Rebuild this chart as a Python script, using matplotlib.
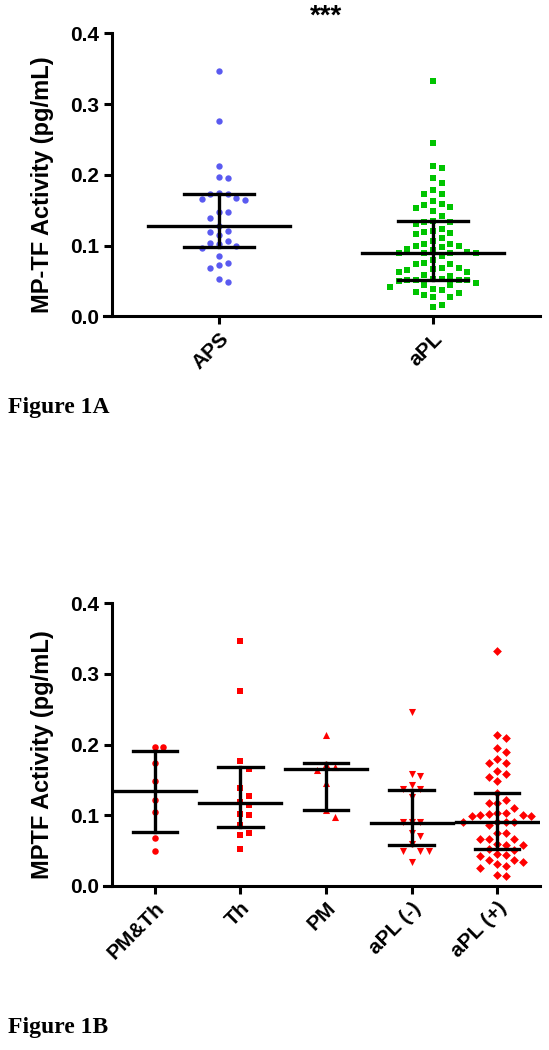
import numpy as np
import matplotlib
matplotlib.use('Agg')
import matplotlib.pyplot as plt

plt.rcParams['font.family'] = ['Liberation Sans', 'DejaVu Sans']
plt.rcParams['font.weight'] = 'bold'

# ---- Figure 1A data (pg/mL) ----
aps_vals = [0.347, 0.276, 0.213, 0.197, 0.195, 0.175, 0.173, 0.173, 0.168, 0.166,
            0.164, 0.147, 0.147, 0.139, 0.128, 0.121, 0.119, 0.115, 0.107, 0.104,
            0.102, 0.0996, 0.097, 0.086, 0.076, 0.072, 0.068, 0.053, 0.049]
apl_vals = [0.333, 0.245, 0.213, 0.210, 0.195, 0.189, 0.178, 0.173, 0.173, 0.163,
            0.159, 0.157, 0.155, 0.153, 0.149, 0.142, 0.135, 0.134, 0.134, 0.131,
            0.124, 0.121, 0.119, 0.118, 0.116, 0.111, 0.107, 0.103, 0.102, 0.100,
            0.099, 0.098, 0.095, 0.094, 0.091, 0.089, 0.089, 0.089, 0.089, 0.085,
            0.080, 0.075, 0.074, 0.074, 0.068, 0.068, 0.067, 0.066, 0.063, 0.063,
            0.058, 0.057, 0.053, 0.053, 0.052, 0.052, 0.051, 0.051, 0.050, 0.047,
            0.045, 0.044, 0.041, 0.039, 0.037, 0.034, 0.033, 0.030, 0.028, 0.027,
            0.016, 0.014]
groups_a = ['APS', 'aPL']
colors_a = ['#5a5af0', '#00c400']
markers_a = ['o', 's']
sizes_a = [21, 18]
median_a = [0.128, 0.089]
q1_a = [0.0986, 0.052]
q3_a = [0.173, 0.135]

# ---- Figure 1B data (pg/mL) ----
pmth_vals = [0.197, 0.196, 0.174, 0.148, 0.122, 0.105, 0.068, 0.050]
th_vals = [0.346, 0.276, 0.177, 0.166, 0.139, 0.128, 0.119, 0.115, 0.102, 0.101,
           0.087, 0.075, 0.072, 0.053]
pm_vals = [0.213, 0.173, 0.168, 0.164, 0.146, 0.107, 0.097]
apl_neg_vals = [0.246, 0.158, 0.155, 0.143, 0.137, 0.137, 0.126, 0.090, 0.090, 0.090,
                0.075, 0.071, 0.059, 0.050, 0.050, 0.049, 0.034]
apl_pos_vals = [0.333, 0.214, 0.210, 0.195, 0.189, 0.179, 0.174, 0.174, 0.163, 0.159,
                0.154, 0.149, 0.132, 0.121, 0.118, 0.117, 0.111, 0.103, 0.103, 0.102,
                0.100, 0.100, 0.0995, 0.099, 0.090, 0.090, 0.090, 0.090, 0.086, 0.075,
                0.075, 0.067, 0.067, 0.066, 0.060, 0.058, 0.058, 0.052, 0.051, 0.045,
                0.044, 0.042, 0.037, 0.037, 0.034, 0.031, 0.028, 0.026, 0.016, 0.014]
groups_b = ['PM&Th', 'Th', 'PM', 'aPL (-)', 'aPL (+)']
markers_b = ['o', 's', '^', 'v', 'D']
sizes_b = [22, 20, 26, 26, 20]
median_b = [0.135, 0.117, 0.166, 0.089, 0.090]
q1_b = [0.077, 0.084, 0.108, 0.058, 0.052]
q3_b = [0.191, 0.169, 0.174, 0.136, 0.131]

RED = '#ff0000'
AX_L, AX_W = 104 / 549, 436 / 549


def swarm(vals, step, min_dy):
    # simple column swarm: centre first, then right/left
    order = np.argsort(vals)[::-1]
    placed = {}
    offs = np.zeros(len(vals))
    for i in order:
        v = vals[i]
        k = 0
        while True:
            col = (k + 1) // 2 * (1 if k % 2 else -1)
            if all(abs(v - u) >= min_dy for u in placed.get(col, [])):
                placed.setdefault(col, []).append(v)
                offs[i] = col * step
                break
            k += 1
    return offs


def style_axes(ax, ncat, ylabel):
    ax.set_ylim(0, 0.4)
    # x axis runs a few pixels past the y axis, GraphPad style
    ax.set_xlim(0.5 - 8 * ncat / 428, ncat + 0.5)
    ax.spines['left'].set_position(('data', 0.5))
    ax.spines['left'].set_bounds(0, 0.4)
    for s in ['top', 'right']:
        ax.spines[s].set_visible(False)
    for s in ['left', 'bottom']:
        ax.spines[s].set_linewidth(2.2)
    ax.set_yticks([0.0, 0.1, 0.2, 0.3, 0.4])
    ax.set_yticklabels(['0.0', '0.1', '0.2', '0.3', '0.4'])
    ax.tick_params(axis='both', width=2.2, length=6, labelsize=15, pad=3)
    ax.set_ylabel(ylabel, fontsize=17, fontweight='bold', va='center')
    ax.yaxis.set_label_coords(-0.14, 0.465)


def summary(ax, x, med, lo, hi, wmed, wq):
    ax.plot([x - wmed, x + wmed], [med, med], color='black', lw=2.4, zorder=4)
    ax.plot([x - wq, x + wq], [lo, lo], color='black', lw=2.4, zorder=4)
    ax.plot([x - wq, x + wq], [hi, hi], color='black', lw=2.4, zorder=4)
    ax.plot([x, x], [lo, hi], color='black', lw=2.4, zorder=4)


fig = plt.figure(figsize=(5.49, 10.5), dpi=100)

# ---------- Figure 1A ----------
ax1 = fig.add_axes([AX_L, 0.6986, AX_W, 0.2697])
data_a = [aps_vals, apl_vals]
for i, vals in enumerate(data_a):
    vals = np.array(vals)
    x = i + 1 + swarm(vals, 0.04, 0.012)
    ax1.scatter(x, vals, s=sizes_a[i], marker=markers_a[i],
                color=colors_a[i], linewidths=0, zorder=3)
    summary(ax1, i + 1, median_a[i], q1_a[i], q3_a[i], 0.33, 0.165)
style_axes(ax1, 2, 'MP-TF Activity (pg/mL)')
ax1.set_xticks([1, 2])
ax1.set_xticklabels(groups_a, rotation=45, ha='right', va='top',
                    rotation_mode='anchor', fontsize=15, fontweight='bold')
fig.text(0.5 * (219 + 433) / 549, 1 - 17 / 1050, '***', ha='center', va='center',
         fontsize=20, fontweight='bold')

# ---------- Figure 1B ----------
ax2 = fig.add_axes([AX_L, 0.1562, AX_W, 0.2692])
data_b = [pmth_vals, th_vals, pm_vals, apl_neg_vals, apl_pos_vals]
for i, vals in enumerate(data_b):
    vals = np.array(vals)
    x = i + 1 + swarm(vals, 0.1, 0.012)
    ax2.scatter(x, vals, s=sizes_b[i], marker=markers_b[i],
                color=RED, linewidths=0, zorder=3)
    summary(ax2, i + 1, median_b[i], q1_b[i], q3_b[i], 0.48, 0.26)
style_axes(ax2, 5, 'MPTF Activity (pg/mL)')
ax2.set_xticks(range(1, 6))
ax2.set_xticklabels(groups_b, rotation=45, ha='right', va='top',
                    rotation_mode='anchor', fontsize=15, fontweight='bold')

fig.text(0.015, 1 - 408 / 1050, 'Figure 1A', family='Liberation Serif',
         fontsize=17, fontweight='bold', va='center')
fig.text(0.015, 1 - 1027 / 1050, 'Figure 1B', family='Liberation Serif',
         fontsize=17, fontweight='bold', va='center')

fig.savefig('out.png', dpi=100)
